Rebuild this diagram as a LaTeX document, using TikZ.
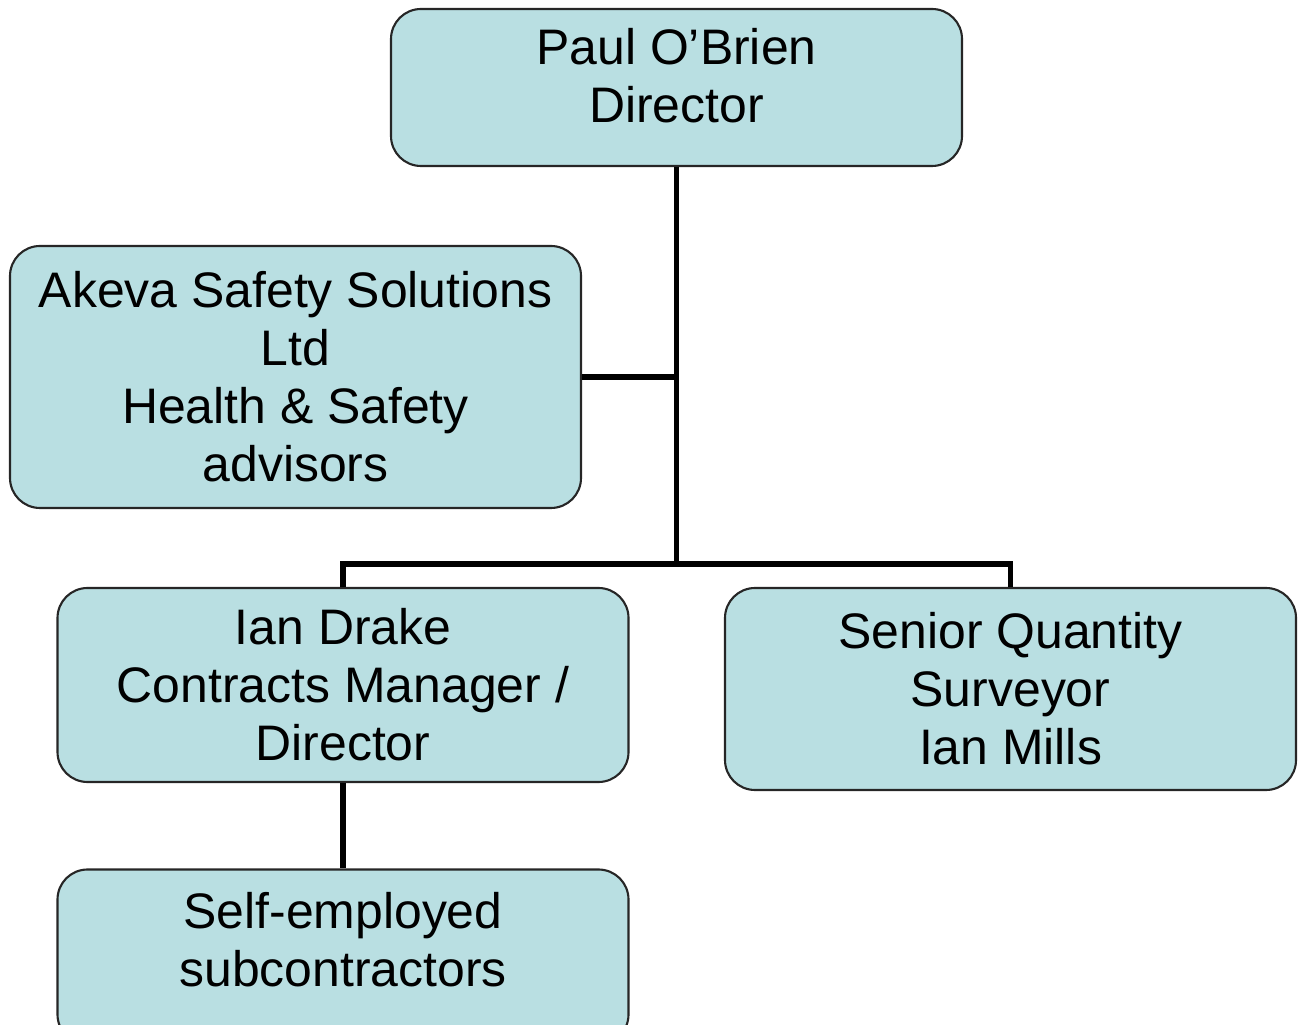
\documentclass[tikz,border=0pt]{standalone}
\usepackage{fontspec}
\setmainfont{Liberation Sans}
\usepackage{tikz}
\definecolor{boxfill}{RGB}{185,223,226}
\tikzset{
  box/.style={draw=black!85,line width=0.6pt,fill=boxfill,rounded corners=3mm,
    align=center,inner sep=0pt,minimum width=57.1mm,font=\fontsize{14.2}{16.5}\selectfont},
  link/.style={line width=1.45pt}
}

\begin{document}
\begin{tikzpicture}[x=0.1mm,y=-0.1mm]
\useasboundingbox (0,0) rectangle (1304,1025);
\node[box,minimum height=15.7mm,text depth=2.4mm] (dir) at (676.5,87.5) {Paul O'Brien\\Director};
\node[box,minimum height=26.2mm] (akeva) at (295.5,377) {Akeva Safety Solutions\\Ltd\\Health \& Safety\\advisors};
\node[box,minimum height=19.4mm] (drake) at (343,685) {Ian Drake\\Contracts Manager /\\Director};
\node[box,minimum height=20.2mm] (qs) at (1010.5,689) {Senior Quantity\\Surveyor\\Ian Mills};
\node[box,minimum height=17.5mm,text depth=3.6mm] (self) at (343,957) {Self-employed\\subcontractors};
\coordinate (fork) at (676.5,564);
\draw[link] (dir.south) -- (fork);
\draw[link] (akeva.east) -- (akeva.east -| dir.south);
\draw[link] (drake.north) -- (drake.north |- fork) -- (qs.north |- fork) -- (qs.north);
\draw[link] (drake.south) -- (self.north);
\end{tikzpicture}
\end{document}
